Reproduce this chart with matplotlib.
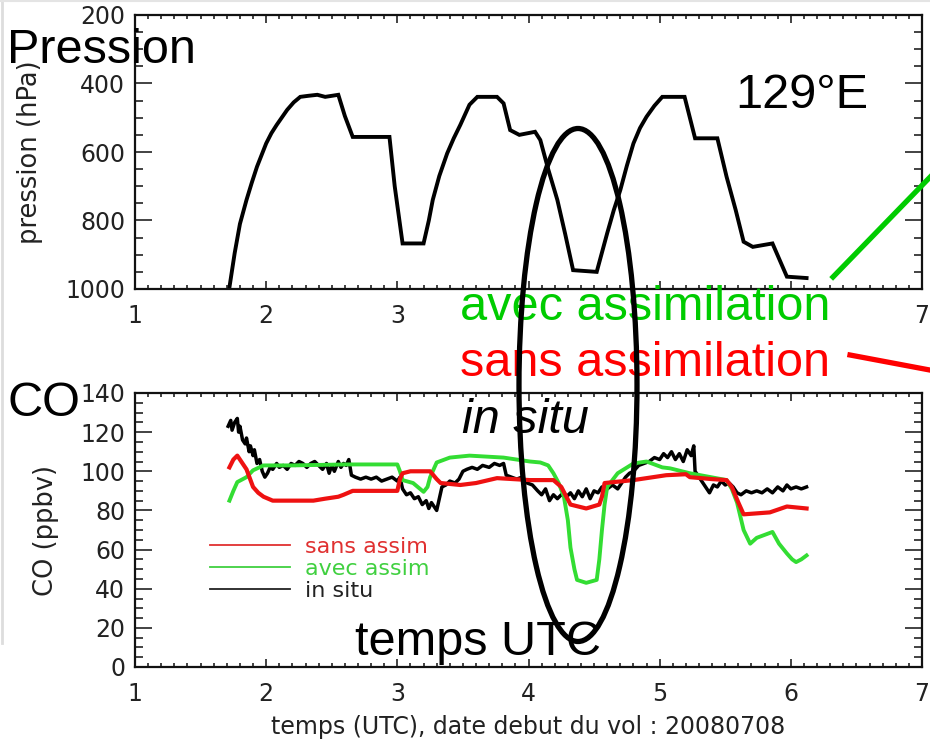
import matplotlib
matplotlib.use("Agg")
import matplotlib.pyplot as plt
from matplotlib.ticker import MultipleLocator
from matplotlib.lines import Line2D
from matplotlib.patches import Ellipse, Rectangle

# ---------------- data ----------------
# Pressure profile (hPa) vs time (UTC hours)
p_time = [1.72, 1.76, 1.80, 1.85, 1.89, 1.93, 2.00, 2.04, 2.08, 2.16, 2.21, 2.26, 2.32, 2.39,
          2.45, 2.55, 2.60, 2.66, 2.94, 2.98, 3.04, 3.20, 3.24, 3.27, 3.32, 3.38, 3.43, 3.48,
          3.55, 3.61, 3.76, 3.81, 3.86, 3.93, 4.05, 4.09, 4.15, 4.22, 4.28, 4.34, 4.52, 4.60,
          4.65, 4.70, 4.75, 4.80, 4.85, 4.90, 4.96, 5.02, 5.19, 5.27, 5.44, 5.51, 5.58, 5.64,
          5.71, 5.86, 5.97, 6.12]
p_val = [995, 895, 810, 740, 690, 643, 575, 545, 521, 477, 455, 439, 436, 433,
         439, 433, 495, 556, 556, 700, 867, 867, 800, 740, 670, 604, 560, 521,
         462, 439, 439, 458, 536, 550, 541, 565, 650, 740, 840, 945, 950, 837,
         770, 711, 640, 575, 530, 497, 465, 439, 439, 560, 560, 672, 770, 862,
         877, 867, 964, 968]

# CO (ppbv): in situ measurements
situ_time = [1.71, 1.73, 1.74, 1.76, 1.78, 1.79, 1.80, 1.82, 1.84, 1.85, 1.87, 1.88, 1.90, 1.91,
             1.93, 1.95, 1.97, 1.99, 2.01, 2.03, 2.05, 2.08, 2.10, 2.13, 2.16, 2.19, 2.22, 2.25,
             2.28, 2.31, 2.34, 2.37, 2.40, 2.43, 2.46, 2.48, 2.50, 2.52, 2.55, 2.57, 2.59, 2.61,
             2.63, 2.65, 2.68, 2.72, 2.76, 2.80, 2.84, 2.88, 2.92, 2.96, 3.00, 3.02, 3.04, 3.07,
             3.10, 3.13, 3.16, 3.19, 3.22, 3.24, 3.26, 3.28, 3.30, 3.32, 3.34, 3.37, 3.40, 3.44,
             3.47, 3.50, 3.53, 3.57, 3.61, 3.65, 3.70, 3.74, 3.78, 3.81, 3.83, 3.87, 3.91, 3.95,
             3.99, 4.03, 4.07, 4.10, 4.13, 4.16, 4.19, 4.22, 4.25, 4.29, 4.32, 4.35, 4.38, 4.41,
             4.44, 4.47, 4.50, 4.53, 4.56, 4.60, 4.64, 4.68, 4.71, 4.74, 4.77, 4.80, 4.84, 4.88,
             4.92, 4.96, 5.00, 5.03, 5.06, 5.09, 5.12, 5.15, 5.18, 5.21, 5.24, 5.26, 5.27, 5.29,
             5.32, 5.35, 5.38, 5.41, 5.44, 5.47, 5.50, 5.53, 5.56, 5.59, 5.62, 5.66, 5.70, 5.74,
             5.78, 5.82, 5.86, 5.90, 5.94, 5.97, 6.00, 6.04, 6.08, 6.12]
situ_val = [123, 126, 121, 125, 127, 120, 123, 116, 114, 117, 110, 113, 108, 111,
            104, 106, 100, 97, 99, 102, 101, 104, 102, 103, 101, 104, 103, 105,
            104, 102, 104, 105, 103, 101, 104, 99, 103, 100, 105, 102, 104, 103,
            106, 98, 97, 96, 97, 96, 97, 95, 96, 97, 95, 97, 91, 88,
            89, 86, 87, 83, 85, 81, 84, 82, 80, 86, 92, 93, 95, 94,
            96, 100, 101, 102, 101, 103, 102, 104, 103, 104, 98, 97, 96, 97,
            94, 93, 90, 88, 91, 85, 88, 86, 88, 87, 89, 86, 90, 87,
            91, 86, 90, 89, 92, 91, 93, 91, 94, 97, 99, 100, 103, 104,
            105, 107, 106, 109, 107, 110, 106, 109, 105, 111, 108, 113, 100, 98,
            95, 92, 89, 93, 92, 95, 93, 94, 92, 89, 88, 90, 89, 90,
            89, 91, 89, 92, 90, 93, 91, 92, 91, 92]

# CO model without assimilation
sans_time = [1.72, 1.75, 1.78, 1.81, 1.85, 1.90, 1.94, 1.98, 2.05, 2.20, 2.36, 2.45, 2.55, 2.59,
             2.66, 2.80, 3.00, 3.02, 3.04, 3.10, 3.25, 3.30, 3.33, 3.48, 3.60, 3.76, 4.01, 4.19,
             4.25, 4.32, 4.38, 4.44, 4.54, 4.56, 4.58, 4.80, 5.05, 5.20, 5.23, 5.40, 5.51, 5.55,
             5.60, 5.64, 5.84, 5.97, 6.12]
sans_val = [102, 106, 108, 105, 101, 92, 89, 87, 85, 85, 85, 86, 87, 88,
            90, 90, 90, 96, 99, 100, 100, 96, 94, 93, 94, 96.5, 95.5, 95.5,
            92, 83, 82, 81, 83, 87, 94, 95.5, 98, 98.5, 97, 96, 95.5, 92,
            84, 78, 79, 82, 81]

# CO model with assimilation
avec_time = [1.72, 1.75, 1.78, 1.85, 1.90, 1.98, 2.20, 2.60, 3.00, 3.02, 3.04, 3.12, 3.20, 3.23,
             3.25, 3.30, 3.40, 3.55, 3.81, 4.01, 4.09, 4.15, 4.19, 4.23, 4.27, 4.30, 4.32, 4.35,
             4.37, 4.44, 4.52, 4.54, 4.56, 4.58, 4.60, 4.68, 4.80, 4.90, 5.02, 5.08, 5.23, 5.51,
             5.55, 5.59, 5.64, 5.69, 5.74, 5.86, 5.91, 5.97, 6.01, 6.04, 6.08, 6.12]
avec_val = [85, 90, 94.5, 97, 100.5, 103, 103, 103.5, 103.5, 100, 95.5, 94, 89.5, 92,
            97, 104.5, 107, 108, 107, 105, 104.5, 103, 99, 94, 87, 75, 61, 50,
            44.5, 43, 44.5, 55, 70, 83, 92, 99, 104, 105, 102, 101.5, 99, 95.5,
            91, 84, 70, 63, 66, 69, 63, 58, 55, 53.6, 55, 57]

series_labels = ["sans assim", "avec assim", "in situ"]
x_ticks = [1, 2, 3, 4, 5, 6, 7]
p_ticks = [200, 400, 600, 800, 1000]
co_ticks = [0, 20, 40, 60, 80, 100, 120, 140]

# ---------------- figure ----------------
W, H = 930, 742
fig = plt.figure(figsize=(W / 100, H / 100), dpi=100)
fig.patch.set_facecolor("white")

def fx(px):
    return px / W

def fy(py):
    return 1 - py / H

idl_font = "DejaVu Sans"
tick_col = "#222222"

def style_axes(ax, yminor):
    ax.set_xlim(1, 7)
    ax.set_xticks(x_ticks)
    ax.xaxis.set_minor_locator(MultipleLocator(0.1))
    ax.yaxis.set_minor_locator(MultipleLocator(yminor))
    ax.tick_params(axis="both", which="both", direction="in", top=True, right=True,
                   colors=tick_col, width=1.2)
    ax.tick_params(axis="x", which="major", length=6, pad=11, labelsize=17)
    ax.tick_params(axis="x", which="minor", length=3)
    ax.tick_params(axis="y", which="major", length=12.5, pad=7, labelsize=17)
    ax.tick_params(axis="y", which="minor", length=6)
    for lab in ax.get_xticklabels() + ax.get_yticklabels():
        lab.set_fontfamily(idl_font)
    for s in ax.spines.values():
        s.set_linewidth(1.6)
        s.set_color("#111111")

# top: pressure
ax1 = fig.add_axes([fx(135), fy(289), fx(922) - fx(135), fy(15) - fy(289)])
ax1.plot(p_time, p_val, color="black", lw=2.8, solid_joinstyle="miter")
ax1.set_ylim(1000, 200)
ax1.set_yticks(p_ticks)
style_axes(ax1, 50)
# labels 4, 5, 6 of the top panel are covered by the overlay annotation in the original
for val, lab in zip(x_ticks, ax1.get_xticklabels()):
    if val in (4, 5, 6):
        lab.set_visible(False)
ax1.set_ylabel("pression (hPa)", fontsize=18.5, family=idl_font, color=tick_col)
ax1.yaxis.set_label_coords(-(135 - 43) / 787, 0.5)

# bottom: CO
ax2 = fig.add_axes([fx(135), fy(667), fx(922) - fx(135), fy(393) - fy(667)])
ax2.plot(situ_time, situ_val, color="black", lw=2.5, zorder=2)
ax2.plot(sans_time, sans_val, color="#EE1111", lw=3.0, zorder=3)
ax2.plot(avec_time, avec_val, color="#33DD33", lw=2.8, zorder=2.5)
ax2.set_ylim(0, 140)
ax2.set_yticks(co_ticks)
style_axes(ax2, 5)
ax2.set_ylabel("CO (ppbv)", fontsize=18.5, family=idl_font, color=tick_col)
ax2.yaxis.set_label_coords(-(135 - 59) / 787, 0.5)
ax2.set_xlabel("temps (UTC), date debut du vol : 20080708", fontsize=17,
               family=idl_font, color=tick_col, labelpad=6)

handles = [Line2D([], [], color="#E03030", lw=1.3),
           Line2D([], [], color="#40D040", lw=1.3),
           Line2D([], [], color="#222222", lw=1.3)]
leg = ax2.legend(handles, series_labels, loc="upper left",
                 bbox_to_anchor=((210 - 135) / 787, (667 - 537) / 274),
                 frameon=False, handlelength=3.6, handletextpad=0.68,
                 labelspacing=0.08, borderpad=0, borderaxespad=0,
                 labelcolor=["#E03030", "#40D040", "#222222"],
                 prop={"family": idl_font, "size": 16})

# ---------------- overlay annotations ----------------
ov = "Liberation Sans"
fs = 35
# white patch behind overlay labels
fig.patches.append(Rectangle((fx(455), fy(391)), fx(828) - fx(455), fy(292) - fy(391),
                             transform=fig.transFigure, facecolor="white",
                             edgecolor="none", zorder=5))
fig.text(fx(7), fy(63), "Pression", fontsize=fs, family=ov, va="baseline", zorder=6)
fig.text(fx(7), fy(416), "CO", fontsize=fs, family=ov, va="baseline", zorder=6)
fig.text(fx(735), fy(108), "129°E", fontsize=fs, family=ov, va="baseline", zorder=6)
fig.text(fx(460), fy(320), "avec assimilation", fontsize=fs, family=ov,
         color="#00CC00", va="baseline", zorder=6)
fig.text(fx(460), fy(376), "sans assimilation", fontsize=fs, family=ov,
         color="#FF0000", va="baseline", zorder=6)
fig.text(fx(462), fy(433), "in situ", fontsize=fs, family=ov, style="italic",
         va="baseline", zorder=6)
fig.text(fx(355), fy(655), "temps UTC", fontsize=fs, family=ov, va="baseline", zorder=6)

fig.patches.append(Ellipse((fx(578), fy(385)), fx(118), 513 / H,
                           transform=fig.transFigure, facecolor="none",
                           edgecolor="black", lw=3.8, zorder=7))
fig.lines.append(Line2D([fx(833), fx(935)], [fy(277), fy(172)], transform=fig.transFigure,
                        color="#00CC00", lw=3.8, zorder=7))
fig.lines.append(Line2D([fx(850), fx(935)], [fy(355), fy(371)], transform=fig.transFigure,
                        color="#FF0000", lw=3.8, zorder=7))
# faint slide frame
fig.lines.append(Line2D([fx(1.5), fx(1.5)], [fy(0), fy(643)], transform=fig.transFigure,
                        color="#DDDDDD", lw=2, zorder=1))
fig.lines.append(Line2D([fx(0), fx(930)], [fy(1), fy(1)], transform=fig.transFigure,
                        color="#E4E4E4", lw=1.5, zorder=1))

fig.savefig("out.png", dpi=100)
